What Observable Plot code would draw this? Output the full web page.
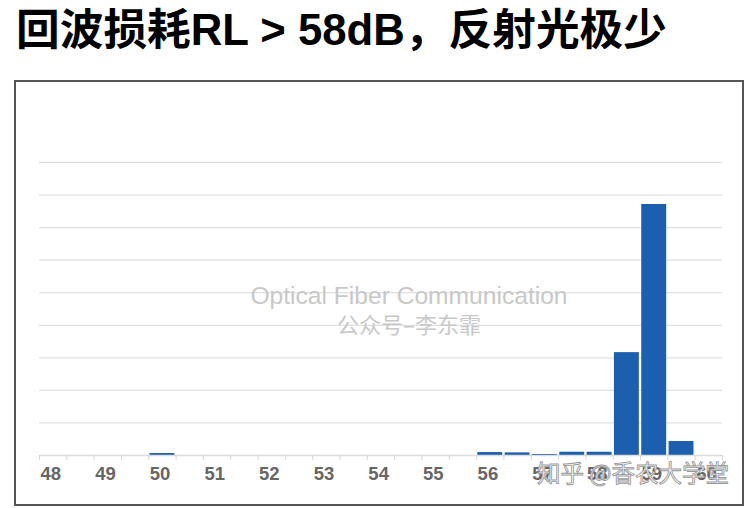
<!DOCTYPE html>
<html>
<head>
<meta charset="utf-8">
<script src="https://cdn.jsdelivr.net/npm/d3@7"></script>
<script src="https://cdn.jsdelivr.net/npm/@observablehq/plot@0.6"></script>
<style>
  html, body { margin: 0; padding: 0; background: #fff; }
  body { width: 746px; height: 508px; position: relative; overflow: hidden; font-family: "Liberation Sans", "Noto Sans CJK SC", sans-serif; }
  #title { position: absolute; left: 16px; top: 8px; font-size: 43.7px; line-height: 1; font-weight: bold; color: #000; white-space: nowrap; }
  #box { position: absolute; left: 14px; top: 80px; width: 726px; height: 422px; border: 2px solid #555; background: #fff; }
  #chart { position: absolute; left: 0; top: 0; }
  .wm1 { position: absolute; left: 0; width: 786px; text-align: center; color: #c8c8c8; white-space: nowrap; }
  #wm3 { position: absolute; left: 521px; top: 373px; font-size: 23.5px; color: #fff; -webkit-text-stroke: 0.9px #999; font-family: "Noto Sans CJK SC", sans-serif; white-space: nowrap; }
</style>
</head>
<body>
<div id="title">回波损耗RL &gt; 58dB，反射光极少</div>
<div id="box">
  <div id="chart"></div>
  <div class="wm1" style="top:200px;font-size:24.6px;font-family:'Liberation Sans',sans-serif;">Optical Fiber Communication</div>
  <div class="wm1" style="top:228px;font-size:22px;font-family:'Noto Sans CJK SC',sans-serif;line-height:1.2;">公众号–李东霏</div>
  <div id="wm3">知乎 @香农大学堂</div>
</div>
<script>
// Histogram of return loss (dB), bin width 0.5
const binStart = [48, 48.5, 49, 49.5, 50, 50.5, 51, 51.5, 52, 52.5, 53, 53.5, 54, 54.5, 55, 55.5, 56, 56.5, 57, 57.5, 58, 58.5, 59, 59.5, 60];
const binEnd   = [48.5, 49, 49.5, 50, 50.5, 51, 51.5, 52, 52.5, 53, 53.5, 54, 54.5, 55, 55.5, 56, 56.5, 57, 57.5, 58, 58.5, 59, 59.5, 60, 60.5];
const counts   = [0, 0, 0, 0, 0.6, 0, 0, 0, 0, 0, 0, 0, 0, 0, 0, 0, 0.9, 0.8, 0.3, 1.0, 1.0, 31.6, 77.1, 4.3, 0];
const tickLabels = [48, 49, 50, 51, 52, 53, 54, 55, 56, 57, 58, 59, 60];
const gridValues = [10, 20, 30, 40, 50, 60, 70, 80, 90];

const data = binStart.map((s, i) => ({x1: s, x2: binEnd[i], y: counts[i]}));
const edges = [...binStart, binEnd[binEnd.length - 1]];

const chart = Plot.plot({
  width: 726,
  height: 422,
  marginLeft: 23,
  marginRight: 20,
  marginTop: 80,
  marginBottom: 49,
  x: {domain: [48, 60.5]},
  y: {domain: [0, 90], axis: null},
  style: {background: "transparent", overflow: "visible"},
  marks: [
    Plot.gridY(gridValues, {stroke: "#e0e0e0", strokeOpacity: 1, strokeWidth: 1.3}),
    Plot.rectY(data.filter(d => d.y > 0), {x1: "x1", x2: "x2", y: "y", fill: "#1b5fae", insetLeft: 1.2, insetRight: 1.2}),
    Plot.ruleY([0], {stroke: "#dcdcdc", strokeWidth: 1.3}),
    Plot.axisX(edges, {tickSize: 5, tickFormat: () => "", stroke: "#d6d6d6"}),
    Plot.axisX(tickLabels, {tickSize: 0, tickPadding: 11, textAnchor: "start", dx: 1, fontSize: 18.5, fontWeight: 600, fill: "#666", fontFamily: "Liberation Sans, sans-serif"})
  ]
});
document.getElementById("chart").appendChild(chart);
</script>
</body>
</html>
